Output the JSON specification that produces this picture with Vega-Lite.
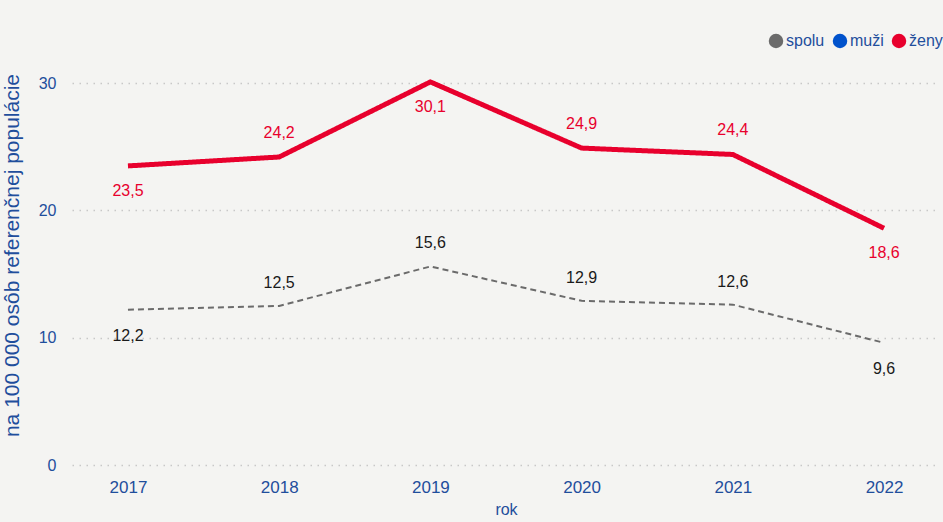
{
  "$schema": "https://vega.github.io/schema/vega-lite/v6.json",
  "width": 868,
  "height": 420,
  "autosize": {"type": "none"},
  "padding": {"left": 72, "top": 45, "right": 3, "bottom": 57},
  "background": "#f4f4f2",
  "config": {
    "view": {"stroke": null},
    "font": "Liberation Sans",
    "locale": {"number": {"decimal": ",", "thousands": " ", "grouping": [3], "currency": ["", " €"]}}
  },
  "data": {
    "values": [
      {"rok": 2017, "skupina": "ženy", "hodnota": 23.5},
      {"rok": 2018, "skupina": "ženy", "hodnota": 24.2},
      {"rok": 2019, "skupina": "ženy", "hodnota": 30.1},
      {"rok": 2020, "skupina": "ženy", "hodnota": 24.9},
      {"rok": 2021, "skupina": "ženy", "hodnota": 24.4},
      {"rok": 2022, "skupina": "ženy", "hodnota": 18.6},
      {"rok": 2017, "skupina": "spolu", "hodnota": 12.2},
      {"rok": 2018, "skupina": "spolu", "hodnota": 12.5},
      {"rok": 2019, "skupina": "spolu", "hodnota": 15.6},
      {"rok": 2020, "skupina": "spolu", "hodnota": 12.9},
      {"rok": 2021, "skupina": "spolu", "hodnota": 12.6},
      {"rok": 2022, "skupina": "spolu", "hodnota": 9.6}
    ]
  },
  "encoding": {
    "x": {
      "field": "rok", "type": "ordinal",
      "scale": {"type": "point", "padding": 0.37},
      "axis": {"orient": "bottom", "labelAngle": 0, "domain": false, "ticks": false, "labelPadding": 14, "labelFontSize": 17, "labelColor": "#1f4e9c", "title": "rok", "titleFontSize": 16, "titleFontWeight": "normal", "titleColor": "#1f4e9c", "titlePadding": 6}
    },
    "y": {
      "field": "hodnota", "type": "quantitative",
      "scale": {"domain": [0, 33], "nice": false},
      "axis": {"values": [0, 10, 20, 30], "domain": false, "ticks": false, "labelPadding": 16, "labelFontSize": 16, "labelColor": "#1f4e9c", "title": "na 100 000 osôb referenčnej populácie", "titleFontSize": 21, "titleFontWeight": "normal", "titleColor": "#1f4e9c", "titlePadding": 16, "grid": true, "gridColor": "#c8c8c8", "gridDash": [1.5, 5.5], "gridWidth": 1.5}
    }
  },
  "layer": [
    {
      "mark": {"type": "line"},
      "encoding": {
        "color": {
          "field": "skupina", "type": "nominal",
          "scale": {"domain": ["spolu", "muži", "ženy"], "range": ["#6b6b6b", "#0052cc", "#e8002d"]},
          "legend": {
            "orient": "none", "legendX": 696, "legendY": -12, "direction": "horizontal", "title": null, "padding": 0,
            "symbolType": "circle", "symbolSize": 210, "labelFontSize": 16, "labelColor": "#1f4e9c", "columnPadding": 7, "labelOffset": 2,
            "encode": {"symbols": {"update": {"fill": {"scale": "color", "field": "value"}, "strokeWidth": {"value": 0}, "opacity": {"value": 1}}}}
          }
        },
        "strokeDash": {"field": "skupina", "type": "nominal", "scale": {"domain": ["spolu", "ženy"], "range": [[6, 4], [1, 0]]}, "legend": null},
        "strokeWidth": {"field": "skupina", "type": "nominal", "scale": {"domain": ["spolu", "ženy"], "range": [2, 5]}, "legend": null}
      }
    },
    {
      "transform": [{"filter": "datum.skupina == 'ženy' && indexof([2018, 2020, 2021], datum.rok) >= 0"}],
      "mark": {"type": "text", "dy": -24, "fontSize": 16, "baseline": "middle", "color": "#e8002d"},
      "encoding": {"text": {"field": "hodnota", "type": "quantitative", "format": ".1f"}}
    },
    {
      "transform": [{"filter": "datum.skupina == 'ženy' && indexof([2018, 2020, 2021], datum.rok) < 0"}],
      "mark": {"type": "text", "dy": 25, "fontSize": 16, "baseline": "middle", "color": "#e8002d"},
      "encoding": {"text": {"field": "hodnota", "type": "quantitative", "format": ".1f"}}
    },
    {
      "transform": [{"filter": "datum.skupina == 'spolu' && indexof([2018, 2019, 2020, 2021], datum.rok) >= 0"}],
      "mark": {"type": "text", "dy": -23, "fontSize": 16, "baseline": "middle", "color": "#1a1a1a"},
      "encoding": {"text": {"field": "hodnota", "type": "quantitative", "format": ".1f"}}
    },
    {
      "transform": [{"filter": "datum.skupina == 'spolu' && indexof([2018, 2019, 2020, 2021], datum.rok) < 0"}],
      "mark": {"type": "text", "dy": 26, "fontSize": 16, "baseline": "middle", "color": "#1a1a1a"},
      "encoding": {"text": {"field": "hodnota", "type": "quantitative", "format": ".1f"}}
    }
  ]
}
